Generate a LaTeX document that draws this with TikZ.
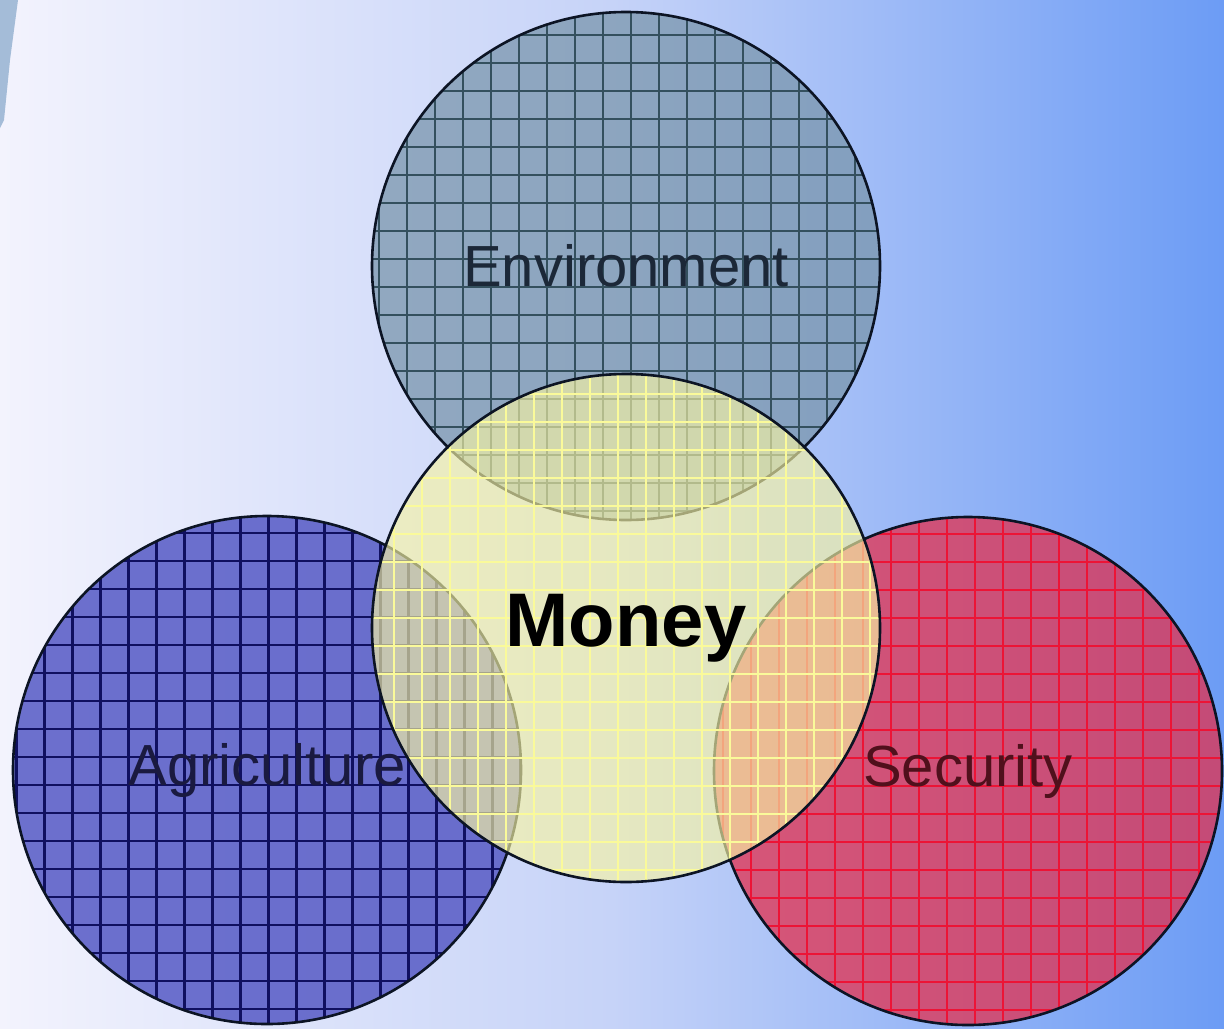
\documentclass[tikz,border=0pt]{standalone}
\usepackage{fontspec}
\setsansfont{Liberation Sans}
\usepackage{xcolor}
\usepackage{tikz}
\usetikzlibrary{positioning}
\definecolor{bgleft}{HTML}{F3F3FD}
\definecolor{bgmid}{HTML}{C6D3F8}
\definecolor{bgright}{HTML}{6C9CF5}
\definecolor{sliver}{HTML}{A4BCD8}
\definecolor{rim}{HTML}{0C1424}
\definecolor{envfill}{HTML}{7A96AD}
\definecolor{envline}{HTML}{34505E}
\definecolor{envtext}{HTML}{1C2838}
\definecolor{agrifill}{HTML}{5E62C8}
\definecolor{agriline}{HTML}{101060}
\definecolor{agritext}{HTML}{1A1A40}
\definecolor{secfill}{HTML}{E2304E}
\definecolor{secline}{HTML}{EC1436}
\definecolor{sectext}{HTML}{50101C}
\definecolor{moneyfill}{HTML}{F7F4A4}
\definecolor{moneyline}{HTML}{FAFA9A}
\tikzset{venn/.style = {circle, minimum size=254pt, inner sep=0pt, line width=1.3pt, draw=rim, text opacity=1, font=\sffamily\fontsize{29}{34}\selectfont}}

\begin{document}
\begin{tikzpicture}[node distance=181pt, grid lines/.style={path picture={\draw[line width=1.2pt, step=14pt, #1] (path picture bounding box.south west) grid (path picture bounding box.north east);}}]
                \useasboundingbox (0,0) rectangle (612pt,-514pt);
                \shade[left color=bgleft, right color=bgright, middle color=bgmid] (0,0) rectangle (612pt,-514pt);
                \fill[sliver] (0,0) -- (9pt,0) -- (5pt,-30pt) -- (2pt,-60pt) -- (0,-64pt) -- cycle;
                \coordinate (mid) at (313pt,-314pt);

                \node[venn, fill=envfill, fill opacity=.75, grid lines=envline, text=envtext] (env) [above=of mid, anchor=center] {Environment};
                \node[venn, fill=agrifill, fill opacity=.9, grid lines=agriline, text=agritext, text depth=6pt] (agri) [below left=71pt and 179.5pt of mid, anchor=center] {Agriculture};
                \node[venn, fill=secfill, fill opacity=.75, grid lines=secline, text=sectext, text depth=6pt] (sec) [below right=71.5pt and 171pt of mid, anchor=center] {Security};
                \node[venn, fill=moneyfill, fill opacity=.65, grid lines={moneyline, line width=1pt}, text=black, font=\sffamily\bfseries\fontsize{38}{44}\selectfont] (money) at (mid) {Money};
            \end{tikzpicture}
\end{document}
